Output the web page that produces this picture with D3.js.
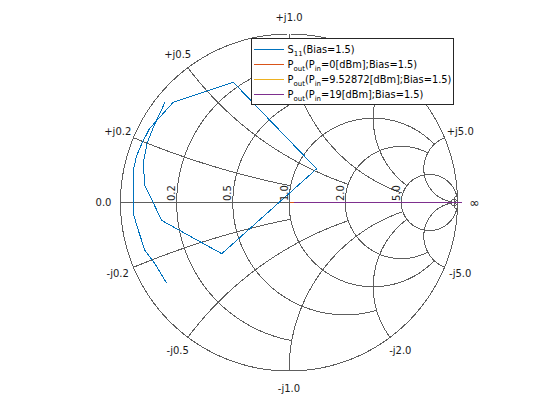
<!DOCTYPE html>
<html><head><meta charset="utf-8">
<script src="https://cdn.jsdelivr.net/npm/d3@7"></script>
<style>body{margin:0;background:#fff}svg{display:block}</style>
</head><body>
<svg id="c" width="560" height="420"></svg>
<script>
// ---- data ----
const gridValues = [0.2, 0.5, 1, 2, 5, 50];
const gridLimits = [1, 2, 5, 5, Infinity, Infinity];
const realTickValues = [0.2, 0.5, 1, 2, 5];
const realTickLabels = ["0.2", "0.5", "1.0", "2.0", "5.0"];
const imagTickValues = [0.2, 0.5, 1, 2, 5];
const imagTickLabels = ["0.2", "0.5", "1.0", "2.0", "5.0"];

// S11 reflection coefficient (real / imaginary parts)
const s11Re = [-0.726, -0.795, -0.855, -0.894, -0.924, -0.924, -0.904, -0.874, -0.829, -0.687, -0.331, 0.164, -0.399, -0.755, -0.855, -0.865, -0.843, -0.805, -0.736];
const s11Im = [-0.479, -0.364, -0.285, -0.166, -0.067, 0.190, 0.279, 0.348, 0.437, 0.595, 0.714, 0.200, -0.304, -0.107, 0.101, 0.231, 0.350, 0.445, 0.595];
// Pout traces (real axis)
const pout0Re = [0.005, 0.03];
const pout0Im = [0, 0];
const pout1Re = [0.03, 1.0];
const pout1Im = [0, 0];
const pout2Re = [0.03, 1.025];
const pout2Im = [0, 0];

const seriesNames = ["S11", "Pout0", "Pout1", "Pout2"];
const seriesColors = ["#0072BD", "#D95319", "#EDB120", "#7E2F8E"];

// ---- layout ----
const svg = d3.select("#c");
const cx = 289, cy = 202.5, R = 168.5;
const xs = d3.scaleLinear().domain([-1, 1]).range([cx - R, cx + R]);
const ys = d3.scaleLinear().domain([-1, 1]).range([cy + R, cy - R]);
const gridColor = "#5e5e5e";
const font = "'DejaVu Sans', sans-serif";

function gamma(r, x) {
  if (!isFinite(r) || !isFinite(x)) return [1, 0];
  const d = (r + 1) * (r + 1) + x * x;
  return [(r * r + x * x - 1) / d, 2 * x / d];
}
const line = d3.line().x(d => xs(d[0])).y(d => ys(d[1]));
const N = 500;

const gGrid = svg.append("g").attr("fill", "none").attr("stroke", gridColor)
  .attr("stroke-width", 1).attr("shape-rendering", "crispEdges");

// outer circle r=0
gGrid.append("path").attr("d", line(d3.range(N + 1).map(i => {
  const a = 2 * Math.PI * i / N; return [Math.cos(a), Math.sin(a)];
})));
// real axis
gGrid.append("path").attr("d", line([[-1, 0], [1, 0]]));

gridValues.forEach((v, k) => {
  const L = gridLimits[k];
  const tL = Math.atan(L);
  // constant resistance circle, |x| <= L
  const rPts = d3.range(N + 1).map(i => gamma(v, Math.tan(-tL + 2 * tL * i / N)));
  gGrid.append("path").attr("d", line(rPts));
  // constant reactance arcs, r <= L
  [1, -1].forEach(s => {
    const xPts = d3.range(N + 1).map(i => gamma(Math.tan(tL * i / N), s * v));
    gGrid.append("path").attr("d", line(xPts));
  });
});

// ---- data traces ----
const gData = svg.append("g").attr("fill", "none").attr("stroke-width", 1)
  .attr("shape-rendering", "crispEdges");
const traces = [[s11Re, s11Im], [pout0Re, pout0Im], [pout1Re, pout1Im], [pout2Re, pout2Im]];
traces.forEach((t, i) => {
  gData.append("path").attr("d", line(t[0].map((re, j) => [re, t[1][j]])))
    .attr("stroke", seriesColors[i]);
});

// ---- labels ----
const gLab = svg.append("g").attr("font-family", font).attr("font-size", 10).attr("fill", "#1a1a1a");
realTickValues.forEach((v, i) => {
  const px = xs((v - 1) / (v + 1)) - 1.5, py = cy - 1.5;
  gLab.append("text").attr("transform", `translate(${px},${py}) rotate(-90)`)
    .attr("text-anchor", "start").text(realTickLabels[i]);
});
const LR = R + 17;
function outerLabel(gx, gy, txt, size) {
  const n = Math.hypot(gx, gy);
  const t = gLab.append("text").attr("x", cx + LR * gx / n).attr("y", cy - LR * gy / n)
    .attr("text-anchor", "middle").attr("dominant-baseline", "central").text(txt);
  if (size) t.attr("font-size", size);
}
imagTickValues.forEach((v, i) => {
  const p = gamma(0, v);
  outerLabel(p[0], p[1], "+j" + imagTickLabels[i]);
  outerLabel(p[0], -p[1], "-j" + imagTickLabels[i]);
});
outerLabel(-1, 0, "0.0");
outerLabel(1, 0, "\u221E", 12.5);

// ---- legend ----
const lg = svg.append("g").attr("font-family", font).attr("font-size", 9.8);
const lx = 251.5, ly = 38.5, lw = 202, lh = 66;
lg.append("rect").attr("x", lx).attr("y", ly).attr("width", lw).attr("height", lh)
  .attr("fill", "#fff").attr("stroke", "#262626").attr("stroke-width", 1)
  .attr("shape-rendering", "crispEdges");
const rows = [
  [["S", 0], ["11", 1], ["(Bias=1.5)", 0]],
  [["P", 0], ["out", 1], ["(P", 0], ["in", 1], ["=0[dBm];Bias=1.5)", 0]],
  [["P", 0], ["out", 1], ["(P", 0], ["in", 1], ["=9.52872[dBm];Bias=1.5)", 0]],
  [["P", 0], ["out", 1], ["(P", 0], ["in", 1], ["=19[dBm];Bias=1.5)", 0]]
];
rows.forEach((parts, i) => {
  const yy = Math.round(ly + 10 + i * 15) + 0.5;
  lg.append("line").attr("x1", lx + 2).attr("x2", lx + 32).attr("y1", yy).attr("y2", yy)
    .attr("stroke", seriesColors[i]).attr("stroke-width", 1).attr("shape-rendering", "crispEdges");
  const t = lg.append("text").attr("x", lx + 36).attr("y", yy + 3.5).attr("fill", "#000");
  let sub = false;
  parts.forEach(p => {
    const ts = t.append("tspan").text(p[0]);
    if (p[1]) { ts.attr("dy", 3).attr("font-size", 7); sub = true; }
    else if (sub) { ts.attr("dy", -3); sub = false; }
  });
});
</script>
</body></html>
